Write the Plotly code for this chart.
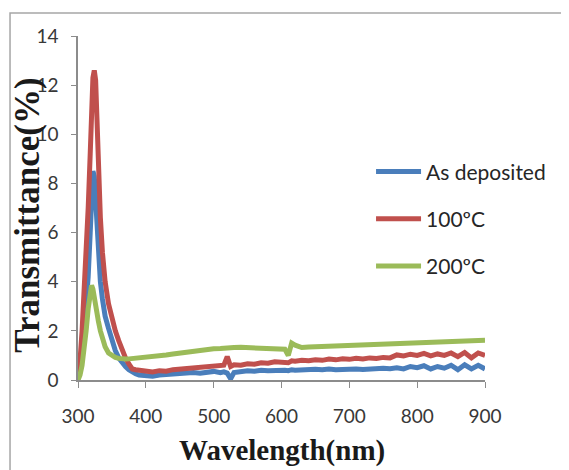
import plotly.graph_objects as go

wavelength = [300, 303, 306, 309, 312, 315, 318, 320, 322, 324, 326, 328, 330, 333, 336, 340,
              345, 350, 355, 360, 365, 370, 375, 380, 385, 390, 395, 400,
              410, 420, 430, 440, 450, 460, 470, 480, 490, 500, 510, 515, 520, 525,
              530, 540, 550, 560, 570, 580, 590, 600, 605, 610, 615,
              620, 630, 640, 650, 660, 670, 680, 690, 700, 710, 720, 730, 740, 750,
              760, 770, 780, 790, 800, 810, 820, 830, 840, 850, 860, 870, 880, 890, 900]

as_deposited = [0.05, 0.5, 1.2, 2.0, 3.0, 4.2, 6.0, 7.6, 8.5, 8.3, 7.3, 5.9, 4.9, 4.0, 3.3, 2.6,
                2.1, 1.6, 1.2, 0.9, 0.7, 0.55, 0.42, 0.32, 0.25, 0.2, 0.18, 0.15,
                0.15, 0.2, 0.22, 0.25, 0.28, 0.25, 0.3, 0.28, 0.32, 0.35, 0.3, 0.33, 0.28, 0.05,
                0.3, 0.35, 0.38, 0.36, 0.4, 0.38, 0.4, 0.42, 0.4, 0.38, 0.42,
                0.4, 0.42, 0.4, 0.44, 0.42, 0.45, 0.42, 0.44, 0.42, 0.45, 0.43, 0.46, 0.44, 0.48,
                0.46, 0.5, 0.45, 0.55, 0.5, 0.58, 0.45, 0.55, 0.48, 0.6, 0.42, 0.62, 0.45, 0.6, 0.45]

t100 = [0.1, 0.8, 2.0, 3.4, 5.2, 7.0, 9.2, 11.0, 12.3, 12.6, 12.2, 10.6, 8.8, 6.6, 5.2, 4.0,
        3.1, 2.5, 2.0, 1.6, 1.2, 0.9, 0.65, 0.45, 0.42, 0.4, 0.38, 0.35,
        0.33, 0.38, 0.36, 0.42, 0.45, 0.43, 0.5, 0.52, 0.55, 0.6, 0.58, 0.6, 0.95, 0.55,
        0.62, 0.6, 0.66, 0.64, 0.7, 0.68, 0.74, 0.72, 0.75, 0.7, 0.78,
        0.76, 0.8, 0.78, 0.82, 0.8, 0.85, 0.82, 0.86, 0.84, 0.88, 0.86, 0.9, 0.88, 0.92,
        0.9, 1.02, 0.98, 1.05, 1.0, 1.08, 0.98, 1.06, 1.0, 1.1, 0.95, 1.12, 0.9, 1.1, 1.0]

t200 = [0.0, 0.2, 0.6, 1.2, 2.0, 2.9, 3.6, 3.85, 3.7, 3.3, 2.9, 2.6, 2.4, 2.0, 1.7, 1.35,
        1.1, 1.0, 0.92, 0.88, 0.85, 0.85, 0.86, 0.87, 0.88, 0.9, 0.92, 0.93,
        0.95, 0.98, 1.02, 1.06, 1.1, 1.13, 1.17, 1.2, 1.24, 1.27, 1.28, 1.3, 1.29, 1.3,
        1.32, 1.33, 1.32, 1.34, 1.3, 1.32, 1.31, 1.3, 1.25, 1.0, 1.5,
        1.42, 1.32, 1.34, 1.35, 1.36, 1.38, 1.4, 1.4, 1.42, 1.43, 1.44, 1.45, 1.46, 1.46,
        1.48, 1.48, 1.5, 1.5, 1.52, 1.52, 1.53, 1.54, 1.55, 1.55, 1.56, 1.58, 1.6, 1.6, 1.62]

series_names = ["As deposited", "100ºC", "200ºC"]
series_colors = ["#4A7EBB", "#C0504D", "#9BBB59"]
series_values = [as_deposited, t100, t200]

x_ticks = [300, 400, 500, 600, 700, 800, 900]
y_ticks = [0, 2, 4, 6, 8, 10, 12, 14]

fig = go.Figure()
for i, (name, color, vals) in enumerate(zip(series_names, series_colors, series_values)):
    fig.add_trace(go.Scatter(x=wavelength, y=vals, mode="lines", name=name,
                             legendgroup=str(i),
                             line=dict(color=color, width=5)))

axis_col = "#8C8C8C"
fig.update_layout(
    width=561, height=462,
    margin=dict(l=70, r=84, t=28, b=90, autoexpand=False),
    paper_bgcolor="white", plot_bgcolor="white",
    font=dict(family="Lato, Liberation Sans, sans-serif", color="#383838"),
    showlegend=True,
    legend=dict(x=0.72, y=0.665, xanchor="left", yanchor="top",
                font=dict(size=21, color="#262626"),
                tracegroupgap=17, itemwidth=45, bgcolor="rgba(0,0,0,0)"),
    xaxis=dict(range=[300, 900], tickvals=x_ticks, showline=True, linecolor=axis_col,
               linewidth=1.5, ticks="outside", tickcolor=axis_col, ticklen=6,
               showgrid=False, zeroline=False, tickfont=dict(size=19),
               ticklabelstandoff=12, automargin=False),
    yaxis=dict(range=[0, 14], tickvals=y_ticks, showline=True, linecolor=axis_col,
               linewidth=1.5, ticks="outside", tickcolor=axis_col, ticklen=5,
               showgrid=False, zeroline=False, tickfont=dict(size=19),
               ticklabelstandoff=9, automargin=False),
    annotations=[
        dict(text="<b>Transmittance(%)</b>", xref="paper", yref="paper",
             x=-0.123, y=0.48, xanchor="center", yanchor="middle", textangle=-90,
             showarrow=False, font=dict(family="Liberation Serif, Times New Roman, serif",
                                        size=35, color="#1a1a1a")),
        dict(text="<b>Wavelength(nm)</b>", xref="paper", yref="paper",
             x=0.5, y=-0.15, xanchor="center", yanchor="top",
             showarrow=False, font=dict(family="Liberation Serif, Times New Roman, serif",
                                        size=29, color="#1a1a1a")),
    ],
    shapes=[dict(type="rect", xref="paper", yref="paper",
                 x0=-0.167, x1=1.199, y0=-0.3, y1=1.067,
                 line=dict(color="#A6A6A6", width=1.5), fillcolor="rgba(0,0,0,0)",
                 layer="below")],
)

fig.write_html("out.html")
